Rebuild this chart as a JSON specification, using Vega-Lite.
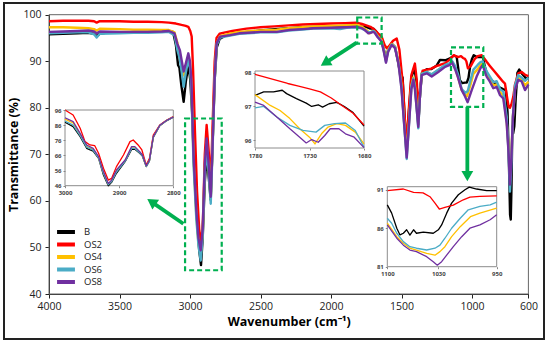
{
"$schema": "https://vega.github.io/schema/vega-lite/v6.json",
"width": 540, "height": 336,
"autosize": {"type": "none"},
"padding": {"left": 4, "top": 3, "right": 6, "bottom": 6},
"background": "white",
"config": {"view": {"stroke": "#222222", "strokeWidth": 2}, "font": "Open Sans", "axis": {"grid": false, "labelFlush": false, "labelOverlap": false}},
"datasets": {
"main": [
{"s":"B","w":4000,"t":95.8},{"s":"B","w":3900,"t":95.9},{"s":"B","w":3800,"t":96.0},{"s":"B","w":3720,"t":96.1},{"s":"B","w":3680,"t":95.9},{"s":"B","w":3662,"t":95.4},{"s":"B","w":3640,"t":95.9},{"s":"B","w":3600,"t":96.1},{"s":"B","w":3500,"t":96.1},{"s":"B","w":3400,"t":96.3},{"s":"B","w":3300,"t":96.3},{"s":"B","w":3200,"t":96.4},{"s":"B","w":3150,"t":96.5},{"s":"B","w":3120,"t":96.3},{"s":"B","w":3100,"t":93.5},{"s":"B","w":3085,"t":89.2},{"s":"B","w":3075,"t":88.6},{"s":"B","w":3062,"t":85},{"s":"B","w":3045,"t":81.3},{"s":"B","w":3030,"t":85.5},{"s":"B","w":3012,"t":89.2},{"s":"B","w":2998,"t":86},{"s":"B","w":2985,"t":79},{"s":"B","w":2970,"t":67},{"s":"B","w":2950,"t":56},{"s":"B","w":2935,"t":49.5},{"s":"B","w":2922,"t":46.2},{"s":"B","w":2910,"t":52},{"s":"B","w":2895,"t":64},{"s":"B","w":2882,"t":69.5},{"s":"B","w":2870,"t":66},{"s":"B","w":2853,"t":60.2},{"s":"B","w":2840,"t":72},{"s":"B","w":2825,"t":86},{"s":"B","w":2810,"t":93},{"s":"B","w":2790,"t":94.8},{"s":"B","w":2750,"t":95.5},{"s":"B","w":2700,"t":95.9},{"s":"B","w":2600,"t":96.3},{"s":"B","w":2500,"t":96.6},{"s":"B","w":2400,"t":96.9},{"s":"B","w":2300,"t":97.1},{"s":"B","w":2200,"t":97.3},{"s":"B","w":2100,"t":97.4},{"s":"B","w":2000,"t":97.5},{"s":"B","w":1900,"t":97.6},{"s":"B","w":1820,"t":97.6},{"s":"B","w":1780,"t":97.4},{"s":"B","w":1750,"t":97.4},{"s":"B","w":1720,"t":97.0},{"s":"B","w":1700,"t":97.0},{"s":"B","w":1680,"t":96.4},{"s":"B","w":1660,"t":95.5},{"s":"B","w":1641,"t":94.4},{"s":"B","w":1625,"t":92.5},{"s":"B","w":1610,"t":90.6},{"s":"B","w":1595,"t":92.4},{"s":"B","w":1570,"t":93.8},{"s":"B","w":1546,"t":93.1},{"s":"B","w":1520,"t":89.2},{"s":"B","w":1505,"t":87},{"s":"B","w":1492,"t":86.5},{"s":"B","w":1478,"t":78},{"s":"B","w":1463,"t":71.8},{"s":"B","w":1450,"t":78},{"s":"B","w":1430,"t":86.5},{"s":"B","w":1410,"t":88.5},{"s":"B","w":1395,"t":86},{"s":"B","w":1381,"t":76.5},{"s":"B","w":1368,"t":83},{"s":"B","w":1355,"t":87.5},{"s":"B","w":1320,"t":88.3},{"s":"B","w":1290,"t":88.3},{"s":"B","w":1250,"t":89.1},{"s":"B","w":1227,"t":90.3},{"s":"B","w":1190,"t":90.2},{"s":"B","w":1156,"t":90.6},{"s":"B","w":1130,"t":91.2},{"s":"B","w":1109,"t":91.0},{"s":"B","w":1100,"t":89.0},{"s":"B","w":1087,"t":86},{"s":"B","w":1070,"t":85.3},{"s":"B","w":1050,"t":85.4},{"s":"B","w":1037,"t":85.4},{"s":"B","w":1025,"t":86.4},{"s":"B","w":1012,"t":89.2},{"s":"B","w":1000,"t":90.5},{"s":"B","w":988,"t":91.3},{"s":"B","w":965,"t":90.9},{"s":"B","w":940,"t":90.9},{"s":"B","w":924,"t":91},{"s":"B","w":910,"t":89},{"s":"B","w":896,"t":87.4},{"s":"B","w":873,"t":86.2},{"s":"B","w":850,"t":85.6},{"s":"B","w":813,"t":84.5},{"s":"B","w":780,"t":84},{"s":"B","w":760,"t":83.8},{"s":"B","w":748,"t":79},{"s":"B","w":738,"t":68},{"s":"B","w":730,"t":57},{"s":"B","w":725,"t":56},{"s":"B","w":720,"t":63},{"s":"B","w":714,"t":76},{"s":"B","w":708,"t":74.5},{"s":"B","w":700,"t":76},{"s":"B","w":690,"t":82},{"s":"B","w":678,"t":87.5},{"s":"B","w":665,"t":88.2},{"s":"B","w":650,"t":87.5},{"s":"B","w":630,"t":86.8},{"s":"B","w":615,"t":86.2},{"s":"B","w":600,"t":86.5},
{"s":"OS2","w":4000,"t":98.6},{"s":"OS2","w":3900,"t":98.7},{"s":"OS2","w":3800,"t":98.7},{"s":"OS2","w":3720,"t":98.7},{"s":"OS2","w":3680,"t":98.6},{"s":"OS2","w":3662,"t":98.3},{"s":"OS2","w":3640,"t":98.6},{"s":"OS2","w":3500,"t":98.6},{"s":"OS2","w":3400,"t":98.5},{"s":"OS2","w":3300,"t":98.5},{"s":"OS2","w":3200,"t":98.4},{"s":"OS2","w":3150,"t":98.3},{"s":"OS2","w":3100,"t":98.1},{"s":"OS2","w":3060,"t":97.8},{"s":"OS2","w":3030,"t":97.6},{"s":"OS2","w":3012,"t":97.4},{"s":"OS2","w":2998,"t":96.5},{"s":"OS2","w":2988,"t":95.3},{"s":"OS2","w":2978,"t":88},{"s":"OS2","w":2965,"t":75},{"s":"OS2","w":2950,"t":62},{"s":"OS2","w":2935,"t":54},{"s":"OS2","w":2920,"t":50.5},{"s":"OS2","w":2908,"t":56},{"s":"OS2","w":2895,"t":70},{"s":"OS2","w":2882,"t":76.3},{"s":"OS2","w":2868,"t":71},{"s":"OS2","w":2853,"t":63.5},{"s":"OS2","w":2840,"t":76},{"s":"OS2","w":2825,"t":90},{"s":"OS2","w":2812,"t":95},{"s":"OS2","w":2790,"t":95.9},{"s":"OS2","w":2750,"t":96.2},{"s":"OS2","w":2700,"t":96.5},{"s":"OS2","w":2600,"t":97},{"s":"OS2","w":2500,"t":97.3},{"s":"OS2","w":2400,"t":97.5},{"s":"OS2","w":2300,"t":97.7},{"s":"OS2","w":2200,"t":97.9},{"s":"OS2","w":2100,"t":98.0},{"s":"OS2","w":2000,"t":98.1},{"s":"OS2","w":1900,"t":98.2},{"s":"OS2","w":1820,"t":98.3},{"s":"OS2","w":1780,"t":98.0},{"s":"OS2","w":1750,"t":97.7},{"s":"OS2","w":1720,"t":97.4},{"s":"OS2","w":1700,"t":97.0},{"s":"OS2","w":1680,"t":96.4},{"s":"OS2","w":1660,"t":95.8},{"s":"OS2","w":1641,"t":95.3},{"s":"OS2","w":1620,"t":93.5},{"s":"OS2","w":1605,"t":92.8},{"s":"OS2","w":1590,"t":93.2},{"s":"OS2","w":1560,"t":94.4},{"s":"OS2","w":1534,"t":94.9},{"s":"OS2","w":1515,"t":92.5},{"s":"OS2","w":1500,"t":88},{"s":"OS2","w":1490,"t":85},{"s":"OS2","w":1475,"t":77},{"s":"OS2","w":1462,"t":72.5},{"s":"OS2","w":1450,"t":79},{"s":"OS2","w":1430,"t":87},{"s":"OS2","w":1405,"t":89.5},{"s":"OS2","w":1392,"t":86},{"s":"OS2","w":1380,"t":79},{"s":"OS2","w":1366,"t":85},{"s":"OS2","w":1350,"t":88},{"s":"OS2","w":1320,"t":88.2},{"s":"OS2","w":1290,"t":88.4},{"s":"OS2","w":1250,"t":89},{"s":"OS2","w":1227,"t":89.2},{"s":"OS2","w":1190,"t":89.6},{"s":"OS2","w":1156,"t":90.4},{"s":"OS2","w":1130,"t":91.3},{"s":"OS2","w":1100,"t":90.9},{"s":"OS2","w":1078,"t":91.1},{"s":"OS2","w":1064,"t":90.7},{"s":"OS2","w":1050,"t":90.5},{"s":"OS2","w":1040,"t":90},{"s":"OS2","w":1029,"t":88.5},{"s":"OS2","w":1020,"t":88.7},{"s":"OS2","w":1008,"t":89},{"s":"OS2","w":996,"t":89.7},{"s":"OS2","w":980,"t":90.5},{"s":"OS2","w":960,"t":91.1},{"s":"OS2","w":931,"t":91.3},{"s":"OS2","w":910,"t":90.5},{"s":"OS2","w":896,"t":89.9},{"s":"OS2","w":873,"t":89},{"s":"OS2","w":849,"t":88.1},{"s":"OS2","w":810,"t":86.7},{"s":"OS2","w":780,"t":85.6},{"s":"OS2","w":766,"t":85.2},{"s":"OS2","w":750,"t":82},{"s":"OS2","w":740,"t":80.2},{"s":"OS2","w":731,"t":80},{"s":"OS2","w":720,"t":80.8},{"s":"OS2","w":707,"t":82.4},{"s":"OS2","w":695,"t":85},{"s":"OS2","w":672,"t":87.4},{"s":"OS2","w":648,"t":87.7},{"s":"OS2","w":624,"t":87.1},{"s":"OS2","w":600,"t":86.8},
{"s":"OS4","w":4000,"t":97.3},{"s":"OS4","w":3900,"t":97.3},{"s":"OS4","w":3800,"t":97.2},{"s":"OS4","w":3720,"t":97.1},{"s":"OS4","w":3680,"t":96.9},{"s":"OS4","w":3662,"t":96.6},{"s":"OS4","w":3640,"t":97.0},{"s":"OS4","w":3500,"t":96.9},{"s":"OS4","w":3400,"t":96.8},{"s":"OS4","w":3300,"t":96.8},{"s":"OS4","w":3200,"t":96.7},{"s":"OS4","w":3150,"t":96.7},{"s":"OS4","w":3110,"t":96.2},{"s":"OS4","w":3090,"t":94},{"s":"OS4","w":3072,"t":91.3},{"s":"OS4","w":3058,"t":89},{"s":"OS4","w":3045,"t":87},{"s":"OS4","w":3030,"t":88.8},{"s":"OS4","w":3012,"t":91},{"s":"OS4","w":3000,"t":89.5},{"s":"OS4","w":2990,"t":85},{"s":"OS4","w":2975,"t":69},{"s":"OS4","w":2955,"t":57},{"s":"OS4","w":2940,"t":51},{"s":"OS4","w":2924,"t":48.3},{"s":"OS4","w":2910,"t":53},{"s":"OS4","w":2895,"t":67},{"s":"OS4","w":2882,"t":72.5},{"s":"OS4","w":2868,"t":67},{"s":"OS4","w":2853,"t":60.5},{"s":"OS4","w":2840,"t":72},{"s":"OS4","w":2825,"t":86.5},{"s":"OS4","w":2811,"t":93.8},{"s":"OS4","w":2787,"t":95.4},{"s":"OS4","w":2716,"t":95.9},{"s":"OS4","w":2650,"t":96.3},{"s":"OS4","w":2500,"t":96.6},{"s":"OS4","w":2385,"t":96.8},{"s":"OS4","w":2300,"t":97.1},{"s":"OS4","w":2200,"t":97.3},{"s":"OS4","w":2125,"t":97.5},{"s":"OS4","w":2000,"t":97.6},{"s":"OS4","w":1889,"t":97.7},{"s":"OS4","w":1818,"t":97.8},{"s":"OS4","w":1780,"t":97.4},{"s":"OS4","w":1760,"t":97.0},{"s":"OS4","w":1740,"t":96.5},{"s":"OS4","w":1725,"t":96.0},{"s":"OS4","w":1705,"t":96.5},{"s":"OS4","w":1690,"t":96.3},{"s":"OS4","w":1670,"t":95.5},{"s":"OS4","w":1641,"t":94.5},{"s":"OS4","w":1625,"t":92.4},{"s":"OS4","w":1610,"t":90.2},{"s":"OS4","w":1595,"t":92.4},{"s":"OS4","w":1570,"t":93.7},{"s":"OS4","w":1546,"t":93.1},{"s":"OS4","w":1525,"t":90.3},{"s":"OS4","w":1516,"t":88.5},{"s":"OS4","w":1500,"t":84.8},{"s":"OS4","w":1480,"t":76.5},{"s":"OS4","w":1463,"t":70},{"s":"OS4","w":1450,"t":75.5},{"s":"OS4","w":1430,"t":84.8},{"s":"OS4","w":1416,"t":86.5},{"s":"OS4","w":1405,"t":84.8},{"s":"OS4","w":1390,"t":79.5},{"s":"OS4","w":1381,"t":76.3},{"s":"OS4","w":1370,"t":82.3},{"s":"OS4","w":1357,"t":87.3},{"s":"OS4","w":1321,"t":87.7},{"s":"OS4","w":1286,"t":87.1},{"s":"OS4","w":1239,"t":88.1},{"s":"OS4","w":1191,"t":89.1},{"s":"OS4","w":1156,"t":89.5},{"s":"OS4","w":1144,"t":90.1},{"s":"OS4","w":1120,"t":88.6},{"s":"OS4","w":1100,"t":86.7},{"s":"OS4","w":1073,"t":83.8},{"s":"OS4","w":1046,"t":82.7},{"s":"OS4","w":1035,"t":82.5},{"s":"OS4","w":1010,"t":85},{"s":"OS4","w":990,"t":87.3},{"s":"OS4","w":960,"t":88.3},{"s":"OS4","w":940,"t":89.2},{"s":"OS4","w":924,"t":89.6},{"s":"OS4","w":910,"t":88.3},{"s":"OS4","w":896,"t":87.3},{"s":"OS4","w":873,"t":86.2},{"s":"OS4","w":849,"t":84.8},{"s":"OS4","w":825,"t":85},{"s":"OS4","w":801,"t":83.3},{"s":"OS4","w":778,"t":82.7},{"s":"OS4","w":754,"t":77},{"s":"OS4","w":740,"t":71},{"s":"OS4","w":731,"t":66},{"s":"OS4","w":722,"t":69},{"s":"OS4","w":710,"t":78},{"s":"OS4","w":695,"t":84.2},{"s":"OS4","w":672,"t":86.4},{"s":"OS4","w":648,"t":86},{"s":"OS4","w":624,"t":84.8},{"s":"OS4","w":600,"t":85.6},
{"s":"OS6","w":4000,"t":96.0},{"s":"OS6","w":3900,"t":96.1},{"s":"OS6","w":3800,"t":96.2},{"s":"OS6","w":3720,"t":96.2},{"s":"OS6","w":3680,"t":95.8},{"s":"OS6","w":3662,"t":95.1},{"s":"OS6","w":3640,"t":95.9},{"s":"OS6","w":3500,"t":96.0},{"s":"OS6","w":3400,"t":96.1},{"s":"OS6","w":3300,"t":96.1},{"s":"OS6","w":3200,"t":96.2},{"s":"OS6","w":3150,"t":96.3},{"s":"OS6","w":3110,"t":95.6},{"s":"OS6","w":3090,"t":92.5},{"s":"OS6","w":3072,"t":90.5},{"s":"OS6","w":3058,"t":87.5},{"s":"OS6","w":3045,"t":84.5},{"s":"OS6","w":3030,"t":87.5},{"s":"OS6","w":3012,"t":90.3},{"s":"OS6","w":3000,"t":88.5},{"s":"OS6","w":2990,"t":84},{"s":"OS6","w":2975,"t":68},{"s":"OS6","w":2955,"t":56},{"s":"OS6","w":2940,"t":50.5},{"s":"OS6","w":2924,"t":47.2},{"s":"OS6","w":2910,"t":52.5},{"s":"OS6","w":2895,"t":66},{"s":"OS6","w":2882,"t":70.5},{"s":"OS6","w":2868,"t":66.5},{"s":"OS6","w":2853,"t":59.4},{"s":"OS6","w":2840,"t":71},{"s":"OS6","w":2825,"t":86},{"s":"OS6","w":2811,"t":93.5},{"s":"OS6","w":2787,"t":95.1},{"s":"OS6","w":2716,"t":95.5},{"s":"OS6","w":2650,"t":95.9},{"s":"OS6","w":2500,"t":96.2},{"s":"OS6","w":2385,"t":96.2},{"s":"OS6","w":2300,"t":96.6},{"s":"OS6","w":2200,"t":96.8},{"s":"OS6","w":2125,"t":97.0},{"s":"OS6","w":2000,"t":97.1},{"s":"OS6","w":1936,"t":96.9},{"s":"OS6","w":1889,"t":97.2},{"s":"OS6","w":1818,"t":97.3},{"s":"OS6","w":1780,"t":97.0},{"s":"OS6","w":1760,"t":96.7},{"s":"OS6","w":1740,"t":96.3},{"s":"OS6","w":1720,"t":96.2},{"s":"OS6","w":1700,"t":96.5},{"s":"OS6","w":1690,"t":96.3},{"s":"OS6","w":1670,"t":95.3},{"s":"OS6","w":1641,"t":94.3},{"s":"OS6","w":1625,"t":92.2},{"s":"OS6","w":1610,"t":89.9},{"s":"OS6","w":1595,"t":92.2},{"s":"OS6","w":1570,"t":93.6},{"s":"OS6","w":1546,"t":93.0},{"s":"OS6","w":1525,"t":90.2},{"s":"OS6","w":1516,"t":88.4},{"s":"OS6","w":1500,"t":84.5},{"s":"OS6","w":1480,"t":76},{"s":"OS6","w":1463,"t":69.0},{"s":"OS6","w":1450,"t":75},{"s":"OS6","w":1430,"t":84.5},{"s":"OS6","w":1416,"t":86.3},{"s":"OS6","w":1405,"t":84.5},{"s":"OS6","w":1390,"t":79},{"s":"OS6","w":1381,"t":75.6},{"s":"OS6","w":1370,"t":82},{"s":"OS6","w":1357,"t":87.3},{"s":"OS6","w":1321,"t":87.7},{"s":"OS6","w":1286,"t":87.2},{"s":"OS6","w":1239,"t":88.2},{"s":"OS6","w":1191,"t":89.2},{"s":"OS6","w":1156,"t":89.6},{"s":"OS6","w":1144,"t":90.2},{"s":"OS6","w":1120,"t":89.0},{"s":"OS6","w":1100,"t":87.3},{"s":"OS6","w":1073,"t":84},{"s":"OS6","w":1046,"t":83.2},{"s":"OS6","w":1030,"t":83.6},{"s":"OS6","w":1010,"t":86},{"s":"OS6","w":990,"t":88.2},{"s":"OS6","w":960,"t":89.2},{"s":"OS6","w":940,"t":89.8},{"s":"OS6","w":924,"t":90.0},{"s":"OS6","w":910,"t":88.8},{"s":"OS6","w":896,"t":87.8},{"s":"OS6","w":873,"t":86.7},{"s":"OS6","w":849,"t":85.5},{"s":"OS6","w":825,"t":85.7},{"s":"OS6","w":801,"t":84},{"s":"OS6","w":778,"t":83.5},{"s":"OS6","w":754,"t":78},{"s":"OS6","w":740,"t":70},{"s":"OS6","w":731,"t":62},{"s":"OS6","w":722,"t":67},{"s":"OS6","w":710,"t":78},{"s":"OS6","w":695,"t":84.8},{"s":"OS6","w":672,"t":87},{"s":"OS6","w":648,"t":86.5},{"s":"OS6","w":624,"t":85.8},{"s":"OS6","w":600,"t":86.5},
{"s":"OS8","w":4000,"t":96.3},{"s":"OS8","w":3900,"t":96.4},{"s":"OS8","w":3800,"t":96.5},{"s":"OS8","w":3720,"t":96.6},{"s":"OS8","w":3680,"t":96.4},{"s":"OS8","w":3662,"t":96.0},{"s":"OS8","w":3640,"t":96.4},{"s":"OS8","w":3500,"t":96.3},{"s":"OS8","w":3400,"t":96.3},{"s":"OS8","w":3300,"t":96.3},{"s":"OS8","w":3200,"t":96.4},{"s":"OS8","w":3150,"t":96.5},{"s":"OS8","w":3110,"t":96.0},{"s":"OS8","w":3090,"t":93.8},{"s":"OS8","w":3072,"t":92.4},{"s":"OS8","w":3058,"t":90},{"s":"OS8","w":3045,"t":87.8},{"s":"OS8","w":3030,"t":89.5},{"s":"OS8","w":3012,"t":91.7},{"s":"OS8","w":3000,"t":90},{"s":"OS8","w":2990,"t":86},{"s":"OS8","w":2975,"t":70},{"s":"OS8","w":2955,"t":58},{"s":"OS8","w":2940,"t":52},{"s":"OS8","w":2924,"t":49.4},{"s":"OS8","w":2910,"t":54},{"s":"OS8","w":2895,"t":68},{"s":"OS8","w":2882,"t":73.4},{"s":"OS8","w":2868,"t":68},{"s":"OS8","w":2853,"t":60.9},{"s":"OS8","w":2840,"t":72},{"s":"OS8","w":2825,"t":86.7},{"s":"OS8","w":2811,"t":93.9},{"s":"OS8","w":2787,"t":95.3},{"s":"OS8","w":2716,"t":95.6},{"s":"OS8","w":2650,"t":96.0},{"s":"OS8","w":2500,"t":96.3},{"s":"OS8","w":2385,"t":96.3},{"s":"OS8","w":2300,"t":96.7},{"s":"OS8","w":2200,"t":96.9},{"s":"OS8","w":2125,"t":97.1},{"s":"OS8","w":2000,"t":97.2},{"s":"OS8","w":1889,"t":97.3},{"s":"OS8","w":1818,"t":97.4},{"s":"OS8","w":1780,"t":97.1},{"s":"OS8","w":1760,"t":96.7},{"s":"OS8","w":1735,"t":96.0},{"s":"OS8","w":1720,"t":96.1},{"s":"OS8","w":1700,"t":96.3},{"s":"OS8","w":1690,"t":96.1},{"s":"OS8","w":1670,"t":95.2},{"s":"OS8","w":1641,"t":94.2},{"s":"OS8","w":1625,"t":92},{"s":"OS8","w":1610,"t":89.7},{"s":"OS8","w":1595,"t":92},{"s":"OS8","w":1570,"t":93.5},{"s":"OS8","w":1546,"t":92.8},{"s":"OS8","w":1525,"t":90},{"s":"OS8","w":1516,"t":88.1},{"s":"OS8","w":1500,"t":84},{"s":"OS8","w":1480,"t":76},{"s":"OS8","w":1463,"t":69.3},{"s":"OS8","w":1450,"t":75},{"s":"OS8","w":1430,"t":84},{"s":"OS8","w":1416,"t":86},{"s":"OS8","w":1405,"t":84},{"s":"OS8","w":1390,"t":79},{"s":"OS8","w":1381,"t":75.9},{"s":"OS8","w":1370,"t":82},{"s":"OS8","w":1357,"t":87},{"s":"OS8","w":1321,"t":87.4},{"s":"OS8","w":1286,"t":86.7},{"s":"OS8","w":1239,"t":87.7},{"s":"OS8","w":1191,"t":88.8},{"s":"OS8","w":1156,"t":89.2},{"s":"OS8","w":1144,"t":89.9},{"s":"OS8","w":1120,"t":88.3},{"s":"OS8","w":1100,"t":86.6},{"s":"OS8","w":1073,"t":83.8},{"s":"OS8","w":1050,"t":82.5},{"s":"OS8","w":1031,"t":81.2},{"s":"OS8","w":1002,"t":83.8},{"s":"OS8","w":967,"t":86.7},{"s":"OS8","w":940,"t":88.5},{"s":"OS8","w":924,"t":89.2},{"s":"OS8","w":910,"t":87.8},{"s":"OS8","w":896,"t":86.7},{"s":"OS8","w":873,"t":85.6},{"s":"OS8","w":849,"t":84.2},{"s":"OS8","w":825,"t":84.5},{"s":"OS8","w":801,"t":82.7},{"s":"OS8","w":778,"t":82},{"s":"OS8","w":754,"t":76.6},{"s":"OS8","w":740,"t":70},{"s":"OS8","w":731,"t":63.5},{"s":"OS8","w":722,"t":68},{"s":"OS8","w":710,"t":78},{"s":"OS8","w":695,"t":83.8},{"s":"OS8","w":672,"t":86},{"s":"OS8","w":648,"t":85.7},{"s":"OS8","w":624,"t":83.8},{"s":"OS8","w":600,"t":85}
],
"i1": [
{"s":"B","w":3000,"t":87.9},{"s":"B","w":2985,"t":85},{"s":"B","w":2972,"t":78.4},{"s":"B","w":2960,"t":70.7},{"s":"B","w":2948,"t":68.9},{"s":"B","w":2938,"t":64.1},{"s":"B","w":2929,"t":53},{"s":"B","w":2920,"t":46},{"s":"B","w":2914,"t":48.2},{"s":"B","w":2905,"t":54.2},{"s":"B","w":2889,"t":61.9},{"s":"B","w":2877,"t":70},{"s":"B","w":2871,"t":70},{"s":"B","w":2862,"t":67.4},{"s":"B","w":2857,"t":65.5},{"s":"B","w":2850,"t":58.6},{"s":"B","w":2844,"t":62.4},{"s":"B","w":2837,"t":77.8},{"s":"B","w":2825,"t":85.6},{"s":"B","w":2812,"t":89},{"s":"B","w":2800,"t":91.2},
{"s":"OS2","w":3000,"t":96},{"s":"OS2","w":2985,"t":92.7},{"s":"OS2","w":2972,"t":83.9},{"s":"OS2","w":2963,"t":75.1},{"s":"OS2","w":2954,"t":72.9},{"s":"OS2","w":2945,"t":72.4},{"s":"OS2","w":2938,"t":67.4},{"s":"OS2","w":2929,"t":57.5},{"s":"OS2","w":2920,"t":49.7},{"s":"OS2","w":2914,"t":50.8},{"s":"OS2","w":2905,"t":58.6},{"s":"OS2","w":2892,"t":66.3},{"s":"OS2","w":2880,"t":75.1},{"s":"OS2","w":2874,"t":76.2},{"s":"OS2","w":2865,"t":72.9},{"s":"OS2","w":2858,"t":69.6},{"s":"OS2","w":2850,"t":59.7},{"s":"OS2","w":2844,"t":64.1},{"s":"OS2","w":2837,"t":79.5},{"s":"OS2","w":2825,"t":86.1},{"s":"OS2","w":2812,"t":89.4},{"s":"OS2","w":2800,"t":91.6},
{"s":"OS4","w":3000,"t":90},{"s":"OS4","w":2985,"t":87.4},{"s":"OS4","w":2972,"t":79.8},{"s":"OS4","w":2960,"t":72},{"s":"OS4","w":2948,"t":70},{"s":"OS4","w":2938,"t":64.6},{"s":"OS4","w":2929,"t":54.6},{"s":"OS4","w":2920,"t":47},{"s":"OS4","w":2914,"t":49.2},{"s":"OS4","w":2905,"t":55.8},{"s":"OS4","w":2889,"t":62.6},{"s":"OS4","w":2877,"t":71},{"s":"OS4","w":2871,"t":71},{"s":"OS4","w":2862,"t":68},{"s":"OS4","w":2857,"t":66},{"s":"OS4","w":2850,"t":59},{"s":"OS4","w":2844,"t":62.8},{"s":"OS4","w":2837,"t":78.2},{"s":"OS4","w":2825,"t":85.8},{"s":"OS4","w":2812,"t":89.2},{"s":"OS4","w":2800,"t":91.4},
{"s":"OS6","w":3000,"t":88.7},{"s":"OS6","w":2985,"t":86},{"s":"OS6","w":2972,"t":79},{"s":"OS6","w":2960,"t":71.5},{"s":"OS6","w":2948,"t":69.5},{"s":"OS6","w":2938,"t":64.4},{"s":"OS6","w":2929,"t":54},{"s":"OS6","w":2920,"t":46.7},{"s":"OS6","w":2914,"t":48.7},{"s":"OS6","w":2905,"t":55},{"s":"OS6","w":2889,"t":62.2},{"s":"OS6","w":2877,"t":70.6},{"s":"OS6","w":2871,"t":70.6},{"s":"OS6","w":2862,"t":67.8},{"s":"OS6","w":2857,"t":65.8},{"s":"OS6","w":2850,"t":58.8},{"s":"OS6","w":2844,"t":62.6},{"s":"OS6","w":2837,"t":78},{"s":"OS6","w":2825,"t":85.7},{"s":"OS6","w":2812,"t":89.1},{"s":"OS6","w":2800,"t":91.3},
{"s":"OS8","w":3000,"t":90.9},{"s":"OS8","w":2985,"t":88.3},{"s":"OS8","w":2972,"t":80.6},{"s":"OS8","w":2960,"t":72.9},{"s":"OS8","w":2948,"t":70.7},{"s":"OS8","w":2938,"t":65.2},{"s":"OS8","w":2929,"t":55.3},{"s":"OS8","w":2920,"t":47.5},{"s":"OS8","w":2914,"t":49.7},{"s":"OS8","w":2905,"t":56.4},{"s":"OS8","w":2889,"t":63},{"s":"OS8","w":2877,"t":71.8},{"s":"OS8","w":2871,"t":71.8},{"s":"OS8","w":2862,"t":68.5},{"s":"OS8","w":2857,"t":66.3},{"s":"OS8","w":2850,"t":59.2},{"s":"OS8","w":2844,"t":63},{"s":"OS8","w":2837,"t":78.4},{"s":"OS8","w":2825,"t":85.9},{"s":"OS8","w":2812,"t":89.2},{"s":"OS8","w":2800,"t":91.4}
],
"i2": [
{"s":"B","w":1780,"t":97.33},{"s":"B","w":1772,"t":97.43},{"s":"B","w":1763,"t":97.43},{"s":"B","w":1755,"t":97.48},{"s":"B","w":1751,"t":97.38},{"s":"B","w":1742,"t":97.23},{"s":"B","w":1733,"t":97.1},{"s":"B","w":1728,"t":97.0},{"s":"B","w":1722,"t":97.05},{"s":"B","w":1718,"t":96.98},{"s":"B","w":1712,"t":97.08},{"s":"B","w":1705,"t":97.12},{"s":"B","w":1698,"t":97.0},{"s":"B","w":1690,"t":96.82},{"s":"B","w":1680,"t":96.42},
{"s":"OS2","w":1780,"t":97.95},{"s":"OS2","w":1770,"t":97.86},{"s":"OS2","w":1760,"t":97.77},{"s":"OS2","w":1750,"t":97.68},{"s":"OS2","w":1740,"t":97.6},{"s":"OS2","w":1730,"t":97.52},{"s":"OS2","w":1720,"t":97.43},{"s":"OS2","w":1710,"t":97.25},{"s":"OS2","w":1700,"t":97.02},{"s":"OS2","w":1690,"t":96.8},{"s":"OS2","w":1680,"t":96.45},
{"s":"OS4","w":1780,"t":97.35},{"s":"OS4","w":1766,"t":97.03},{"s":"OS4","w":1757,"t":96.88},{"s":"OS4","w":1748,"t":96.64},{"s":"OS4","w":1739,"t":96.34},{"s":"OS4","w":1730,"t":96.09},{"s":"OS4","w":1725,"t":95.89},{"s":"OS4","w":1719,"t":96.19},{"s":"OS4","w":1713,"t":96.39},{"s":"OS4","w":1705,"t":96.49},{"s":"OS4","w":1697,"t":96.44},{"s":"OS4","w":1688,"t":96.24},{"s":"OS4","w":1680,"t":95.89},
{"s":"OS6","w":1780,"t":96.96},{"s":"OS6","w":1772,"t":97.0},{"s":"OS6","w":1760,"t":96.69},{"s":"OS6","w":1748,"t":96.44},{"s":"OS6","w":1736,"t":96.29},{"s":"OS6","w":1724,"t":96.24},{"s":"OS6","w":1716,"t":96.44},{"s":"OS6","w":1707,"t":96.49},{"s":"OS6","w":1697,"t":96.51},{"s":"OS6","w":1688,"t":96.29},{"s":"OS6","w":1680,"t":95.79},
{"s":"OS8","w":1780,"t":97.13},{"s":"OS8","w":1772,"t":97.03},{"s":"OS8","w":1760,"t":96.69},{"s":"OS8","w":1748,"t":96.34},{"s":"OS8","w":1739,"t":96.09},{"s":"OS8","w":1733,"t":95.92},{"s":"OS8","w":1728,"t":96.02},{"s":"OS8","w":1722,"t":95.94},{"s":"OS8","w":1716,"t":96.14},{"s":"OS8","w":1711,"t":96.34},{"s":"OS8","w":1703,"t":96.34},{"s":"OS8","w":1697,"t":96.19},{"s":"OS8","w":1689,"t":96.09},{"s":"OS8","w":1680,"t":95.78}
],
"i3": [
{"s":"B","w":1100,"t":89.04},{"s":"B","w":1094,"t":87.96},{"s":"B","w":1087,"t":86},{"s":"B","w":1082.6,"t":85.13},{"s":"B","w":1078,"t":85.35},{"s":"B","w":1073.5,"t":85.8},{"s":"B","w":1069,"t":85.1},{"s":"B","w":1064,"t":85.8},{"s":"B","w":1060,"t":85.35},{"s":"B","w":1050.6,"t":85.5},{"s":"B","w":1037,"t":85.35},{"s":"B","w":1030,"t":85.8},{"s":"B","w":1025.5,"t":86.43},{"s":"B","w":1018.6,"t":87.96},{"s":"B","w":1011.8,"t":89.26},{"s":"B","w":1002.6,"t":90.35},{"s":"B","w":993.5,"t":91},{"s":"B","w":987.6,"t":91.35},{"s":"B","w":977.5,"t":91.1},{"s":"B","w":963.8,"t":90.9},{"s":"B","w":950,"t":90.9},
{"s":"OS2","w":1100,"t":90.9},{"s":"OS2","w":1078,"t":91.1},{"s":"OS2","w":1064,"t":90.65},{"s":"OS2","w":1051,"t":90.6},{"s":"OS2","w":1041.5,"t":90.1},{"s":"OS2","w":1034.6,"t":89.26},{"s":"OS2","w":1028.7,"t":88.5},{"s":"OS2","w":1021,"t":88.7},{"s":"OS2","w":1009.5,"t":89},{"s":"OS2","w":995.8,"t":89.7},{"s":"OS2","w":986.7,"t":90.04},{"s":"OS2","w":973,"t":90.13},{"s":"OS2","w":950,"t":90.2},
{"s":"OS4","w":1100,"t":86.65},{"s":"OS4","w":1087,"t":84.9},{"s":"OS4","w":1078,"t":84.04},{"s":"OS4","w":1069,"t":83.4},{"s":"OS4","w":1060,"t":83.17},{"s":"OS4","w":1046,"t":82.74},{"s":"OS4","w":1034.6,"t":82.5},{"s":"OS4","w":1027.8,"t":82.96},{"s":"OS4","w":1021,"t":83.6},{"s":"OS4","w":1011.8,"t":84.9},{"s":"OS4","w":1000,"t":86.2},{"s":"OS4","w":986,"t":87.5},{"s":"OS4","w":973,"t":87.96},{"s":"OS4","w":950,"t":88.6},
{"s":"OS6","w":1100,"t":87.3},{"s":"OS6","w":1094,"t":86.65},{"s":"OS6","w":1087,"t":85.35},{"s":"OS6","w":1078,"t":84.26},{"s":"OS6","w":1069,"t":83.6},{"s":"OS6","w":1060,"t":83.4},{"s":"OS6","w":1046,"t":83.17},{"s":"OS6","w":1034.6,"t":83.4},{"s":"OS6","w":1027.8,"t":83.8},{"s":"OS6","w":1021,"t":84.7},{"s":"OS6","w":1011.8,"t":86},{"s":"OS6","w":1000,"t":87.3},{"s":"OS6","w":989,"t":88.4},{"s":"OS6","w":973,"t":88.83},{"s":"OS6","w":959,"t":89.04},{"s":"OS6","w":950,"t":89.4},
{"s":"OS8","w":1100,"t":86.43},{"s":"OS8","w":1087,"t":84.7},{"s":"OS8","w":1078,"t":83.8},{"s":"OS8","w":1069,"t":83.17},{"s":"OS8","w":1060,"t":82.96},{"s":"OS8","w":1046,"t":82.3},{"s":"OS8","w":1037,"t":81.65},{"s":"OS8","w":1031.4,"t":81.2},{"s":"OS8","w":1025.5,"t":81.65},{"s":"OS8","w":1018.6,"t":82.5},{"s":"OS8","w":1009.5,"t":83.6},{"s":"OS8","w":998,"t":84.9},{"s":"OS8","w":986.7,"t":86},{"s":"OS8","w":973,"t":86.43},{"s":"OS8","w":959,"t":87.1},{"s":"OS8","w":950,"t":87.74}
],
"boxes": [
{"w":3035,"w2":2775,"t":45.1,"t2":77.7},
{"w":1814,"w2":1641,"t":93.8,"t2":99.4},
{"w":1149,"w2":920,"t":80.2,"t2":93}
],
"arrows": [
{"id":"a1","w":3273,"t":59.8,"w2":3047,"t2":55.1},
{"id":"a2","w":2042,"t":89.6,"w2":1818,"t2":94.0},
{"id":"a3","w":1033,"t":65.3,"w2":1033,"t2":80.2}
]
},
"layer": [
{"layer": [
 {"data": {"values": [{}]}, "mark": {"type": "rect", "filled": false, "stroke": "#666666", "strokeWidth": 1},
  "encoding": {
   "x": {"datum": 4000, "type": "quantitative", "scale": {"domain": [4000, 600], "range": [45, 524.4], "nice": false, "zero": false}},
   "x2": {"datum": 600},
   "y": {"datum": 40, "type": "quantitative", "scale": {"domain": [40, 100], "range": [291, 11.7], "nice": false, "zero": false}},
   "y2": {"datum": 100}}},
 {"data": {"name": "main"}, "mark": {"type": "line", "strokeWidth": 2.4, "strokeJoin": "round"},
  "encoding": {
   "x": {"field": "w", "type": "quantitative", "scale": {"domain": [4000, 600], "range": [45, 524.4], "nice": false, "zero": false},
     "axis": {"orient": "bottom", "offset": -45, "values": [4000,3750,3500,3250,3000,2750,2500,2250,2000,1750,1500,1250,1000,750,600], "format": "d", "labelExpr": "datum.value % 500 == 0 || datum.value == 600 ? datum.label : ''", "title": "Wavenumber (cm⁻¹)", "titleFontSize": 12.5, "titleFontWeight": "bold", "titleColor": "#000000", "titlePadding": 4, "labelFontSize": 10.5, "labelColor": "#222222", "labelPadding": 3, "tickSize": 4, "tickColor": "#222222", "domainColor": "#222222"}},
   "y": {"field": "t", "type": "quantitative", "scale": {"domain": [40, 100], "range": [291, 11.7], "nice": false, "zero": false},
     "axis": {"orient": "left", "offset": -45, "values": [40,50,60,70,80,90,100], "format": "d", "title": "Transmittance (%)", "titleFontSize": 12.5, "titleFontWeight": "bold", "titleColor": "#000000", "titlePadding": 2, "labelFontSize": 10.5, "labelColor": "#222222", "labelPadding": 4, "tickSize": 4, "tickColor": "#222222", "domainColor": "#222222"}},
   "color": {"field": "s", "type": "nominal", "scale": {"domain": ["B","OS2","OS4","OS6","OS8"], "range": ["#000000","#FF0000","#FFC000","#4BACC6","#7030A0"]},
     "legend": {"orient": "none", "legendX": 51, "legendY": 223, "title": null, "symbolType": "stroke", "symbolStrokeWidth": 4, "symbolSize": 320, "clipHeight": 12, "rowPadding": 0.5, "labelFontSize": 9.5, "labelColor": "#222222", "labelOffset": 7, "padding": 0, "offset": 0}}}},
 {"data": {"name": "boxes"}, "mark": {"type": "rect", "filled": false, "stroke": "#00B050", "strokeWidth": 2.2, "strokeDash": [5, 3]},
  "encoding": {
   "x": {"field": "w", "type": "quantitative", "scale": {"domain": [4000, 600], "range": [45, 524.4], "nice": false, "zero": false}},
   "x2": {"field": "w2"},
   "y": {"field": "t", "type": "quantitative", "scale": {"domain": [40, 100], "range": [291, 11.7], "nice": false, "zero": false}},
   "y2": {"field": "t2"}}},
 {"data": {"name": "arrows"}, "mark": {"type": "rule", "stroke": "#00B050", "strokeWidth": 3.8},
  "encoding": {
   "x": {"field": "w", "type": "quantitative", "scale": {"domain": [4000, 600], "range": [45, 524.4], "nice": false, "zero": false}},
   "x2": {"field": "w2"},
   "y": {"field": "t", "type": "quantitative", "scale": {"domain": [40, 100], "range": [291, 11.7], "nice": false, "zero": false}},
   "y2": {"field": "t2"}}},
 {"data": {"name": "arrows"}, "transform": [{"filter": "datum.id == 'a1'"}], "mark": {"type": "point", "shape": "triangle-up", "angle": 304.5, "size": 140, "filled": true, "color": "#00B050", "opacity": 1},
  "encoding": {
   "x": {"field": "w", "type": "quantitative", "scale": {"domain": [4000, 600], "range": [45, 524.4], "nice": false, "zero": false}},
   "y": {"field": "t", "type": "quantitative", "scale": {"domain": [40, 100], "range": [291, 11.7], "nice": false, "zero": false}}}},
 {"data": {"name": "arrows"}, "transform": [{"filter": "datum.id == 'a2'"}], "mark": {"type": "point", "shape": "triangle-up", "angle": 237.5, "size": 140, "filled": true, "color": "#00B050", "opacity": 1},
  "encoding": {
   "x": {"field": "w", "type": "quantitative", "scale": {"domain": [4000, 600], "range": [45, 524.4], "nice": false, "zero": false}},
   "y": {"field": "t", "type": "quantitative", "scale": {"domain": [40, 100], "range": [291, 11.7], "nice": false, "zero": false}}}},
 {"data": {"name": "arrows"}, "transform": [{"filter": "datum.id == 'a3'"}], "mark": {"type": "point", "shape": "triangle-up", "angle": 180, "size": 140, "filled": true, "color": "#00B050", "opacity": 1},
  "encoding": {
   "x": {"field": "w", "type": "quantitative", "scale": {"domain": [4000, 600], "range": [45, 524.4], "nice": false, "zero": false}},
   "y": {"field": "t", "type": "quantitative", "scale": {"domain": [40, 100], "range": [291, 11.7], "nice": false, "zero": false}}}}
]},
{"layer": [
 {"data": {"values": [{}]}, "mark": {"type": "rect", "fill": "white", "stroke": "#8c8c8c", "strokeWidth": 1},
  "encoding": {
   "x": {"datum": 3000, "type": "quantitative", "scale": {"domain": [3000, 2800], "range": [61, 169.3], "nice": false, "zero": false}},
   "x2": {"datum": 2800},
   "y": {"datum": 46, "type": "quantitative", "scale": {"domain": [46, 96], "range": [182.7, 107], "nice": false, "zero": false}},
   "y2": {"datum": 96}}},
 {"data": {"name": "i1"}, "mark": {"type": "line", "strokeWidth": 1.3, "strokeJoin": "round"},
  "encoding": {
   "x": {"field": "w", "type": "quantitative", "scale": {"domain": [3000, 2800], "range": [61, 169.3], "nice": false, "zero": false},
     "axis": {"orient": "bottom", "offset": -153.3, "values": [3000, 2900, 2800], "format": "d", "title": null, "labelFontSize": 6, "labelFontWeight": "bold", "labelColor": "#444444", "labelPadding": 2, "tickSize": 2, "tickColor": "#888888", "domain": false, "zindex": 1}},
   "y": {"field": "t", "type": "quantitative", "scale": {"domain": [46, 96], "range": [182.7, 107], "nice": false, "zero": false},
     "axis": {"orient": "left", "offset": -61, "values": [46, 56, 66, 76, 86, 96], "format": "d", "title": null, "labelFontSize": 6, "labelFontWeight": "bold", "labelColor": "#444444", "labelPadding": 2, "tickSize": 2, "tickColor": "#888888", "domain": false, "zindex": 1}},
   "color": {"field": "s", "type": "nominal", "scale": {"domain": ["B","OS2","OS4","OS6","OS8"], "range": ["#000000","#FF0000","#FFC000","#4BACC6","#7030A0"]}, "legend": null}}}
]},
{"layer": [
 {"data": {"values": [{}]}, "mark": {"type": "rect", "fill": "white", "stroke": "#8c8c8c", "strokeWidth": 1},
  "encoding": {
   "x": {"datum": 1780, "type": "quantitative", "scale": {"domain": [1780, 1680], "range": [251, 360], "nice": false, "zero": false}},
   "x2": {"datum": 1680},
   "y": {"datum": 95.77, "type": "quantitative", "scale": {"domain": [95.77, 98.05], "range": [145, 68], "nice": false, "zero": false}},
   "y2": {"datum": 98.05}}},
 {"data": {"name": "i2"}, "mark": {"type": "line", "strokeWidth": 1.3, "strokeJoin": "round"},
  "encoding": {
   "x": {"field": "w", "type": "quantitative", "scale": {"domain": [1780, 1680], "range": [251, 360], "nice": false, "zero": false},
     "axis": {"orient": "bottom", "offset": -191, "values": [1780, 1730, 1680], "format": "d", "title": null, "labelFontSize": 6, "labelFontWeight": "bold", "labelColor": "#444444", "labelPadding": 2, "tickSize": 2, "tickColor": "#888888", "domain": false, "zindex": 1}},
   "y": {"field": "t", "type": "quantitative", "scale": {"domain": [95.77, 98.05], "range": [145, 68], "nice": false, "zero": false},
     "axis": {"orient": "left", "offset": -251, "values": [96, 97, 98], "format": "d", "title": null, "labelFontSize": 6, "labelFontWeight": "bold", "labelColor": "#444444", "labelPadding": 2, "tickSize": 2, "tickColor": "#888888", "domain": false, "zindex": 1}},
   "color": {"field": "s", "type": "nominal", "scale": {"domain": ["B","OS2","OS4","OS6","OS8"], "range": ["#000000","#FF0000","#FFC000","#4BACC6","#7030A0"]}, "legend": null}}}
]},
{"layer": [
 {"data": {"values": [{}]}, "mark": {"type": "rect", "fill": "white", "stroke": "#8c8c8c", "strokeWidth": 1},
  "encoding": {
   "x": {"datum": 1100, "type": "quantitative", "scale": {"domain": [1100, 950], "range": [383.3, 492.7], "nice": false, "zero": false}},
   "x2": {"datum": 950},
   "y": {"datum": 81, "type": "quantitative", "scale": {"domain": [81, 91.4], "range": [263.7, 183.7], "nice": false, "zero": false}},
   "y2": {"datum": 91.4}}},
 {"data": {"name": "i3"}, "mark": {"type": "line", "strokeWidth": 1.3, "strokeJoin": "round"},
  "encoding": {
   "x": {"field": "w", "type": "quantitative", "scale": {"domain": [1100, 950], "range": [383.3, 492.7], "nice": false, "zero": false},
     "axis": {"orient": "bottom", "offset": -72.3, "values": [1100, 1030, 950], "format": "d", "title": null, "labelFontSize": 6, "labelFontWeight": "bold", "labelColor": "#444444", "labelPadding": 2, "tickSize": 2, "tickColor": "#888888", "domain": false, "zindex": 1}},
   "y": {"field": "t", "type": "quantitative", "scale": {"domain": [81, 91.4], "range": [263.7, 183.7], "nice": false, "zero": false},
     "axis": {"orient": "left", "offset": -383.3, "values": [81, 86, 91], "format": "d", "title": null, "labelFontSize": 6, "labelFontWeight": "bold", "labelColor": "#444444", "labelPadding": 2, "tickSize": 2, "tickColor": "#888888", "domain": false, "zindex": 1}},
   "color": {"field": "s", "type": "nominal", "scale": {"domain": ["B","OS2","OS4","OS6","OS8"], "range": ["#000000","#FF0000","#FFC000","#4BACC6","#7030A0"]}, "legend": null}}}
]}
],
"resolve": {"scale": {"x": "independent", "y": "independent"}, "axis": {"x": "independent", "y": "independent"}}
}
